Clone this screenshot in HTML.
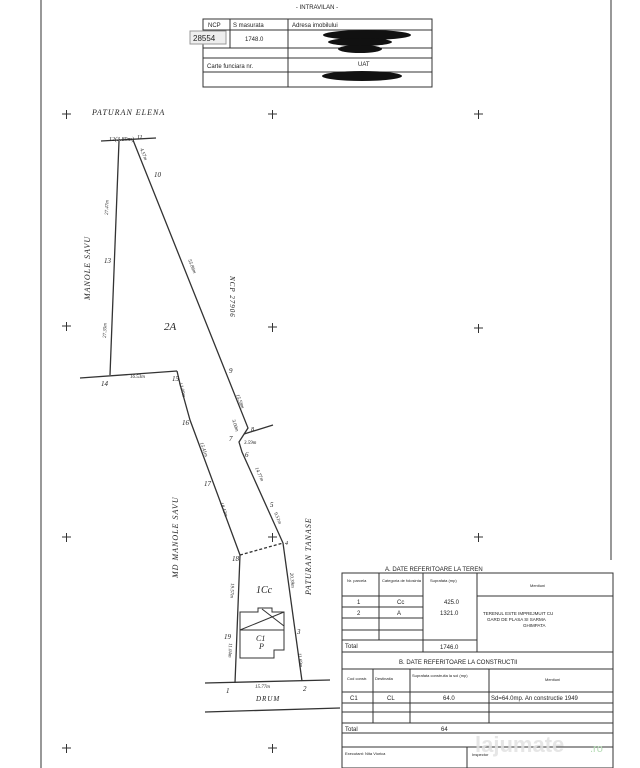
<!DOCTYPE html>
<html><head><meta charset="utf-8"><style>
html,body{margin:0;padding:0;background:#fff;}
svg{display:block}
text{font-family:"Liberation Serif",serif;fill:#222}
.s{font-family:"Liberation Sans",sans-serif;}
</style></head><body>
<svg width="640" height="768" viewBox="0 0 640 768" xmlns="http://www.w3.org/2000/svg">
<rect width="640" height="768" fill="#fff"/>
<g stroke="#555" stroke-width="1.2" fill="none">
<line x1="41" y1="0" x2="41" y2="768"/>
<line x1="611" y1="0" x2="611" y2="560"/>
</g>
<text x="317" y="9" font-size="6" text-anchor="middle" class="s">- INTRAVILAN -</text>
<g stroke="#333" stroke-width="1" fill="none">
<rect x="203" y="19" width="229" height="68"/>
<line x1="288" y1="19" x2="288" y2="87"/>
<line x1="230" y1="19" x2="230" y2="48"/>
<line x1="203" y1="30" x2="288" y2="30"/>
<line x1="203" y1="48" x2="432" y2="48"/>
<line x1="203" y1="58" x2="432" y2="58"/>
<line x1="203" y1="72" x2="432" y2="72"/>
<line x1="288" y1="30" x2="432" y2="30"/>
<rect x="190" y="31" width="36" height="13" fill="#eee" stroke="#999"/>
</g>
<g class="s" font-size="6">
<text x="208" y="27" class="s">NCP</text><text x="233" y="27" class="s">S masurata</text>
<text x="292" y="27" class="s">Adresa imobilului</text>
<text x="193" y="41" class="s" font-size="8">28554</text><text x="245" y="41" class="s">1748.0</text>
<text x="207" y="68" class="s">Carte funciara nr.</text><text x="358" y="66" class="s">UAT</text>
</g>
<g fill="#111">
<ellipse cx="367" cy="35" rx="44" ry="5"/><ellipse cx="360" cy="42" rx="32" ry="4"/>
<ellipse cx="360" cy="49" rx="22" ry="4"/><ellipse cx="362" cy="76" rx="40" ry="5"/>
</g>
<g stroke="#333" stroke-width="1">
<path d="M62 114h9M66.5 110v9 M268 114h9M272.5 110v9 M474 114h9M478.5 110v9
M62 326h9M66.5 322v9 M268 327h9M272.5 323v9 M474 328h9M478.5 324v9
M62 537h9M66.5 533v9 M268 537h9M272.5 533v9 M474 537h9M478.5 533v9
M62 748h9M66.5 744v9 M268 748h9M272.5 744v9"/>
</g>
<g stroke="#333" stroke-width="1.3" fill="none">
<line x1="101" y1="141" x2="156" y2="138"/>
<line x1="119" y1="141" x2="110" y2="375"/>
<polyline points="133,140 248,428 239,442 242,452 283,543 302,681"/>
<line x1="244" y1="434" x2="273" y2="425"/>
<line x1="80" y1="378" x2="177" y2="371"/>
<polyline points="177,371 180,384 190,420 240,555 235,683"/>
<line x1="205" y1="683" x2="330" y2="680"/>
<line x1="205" y1="712" x2="340" y2="708"/>
<line x1="240" y1="555" x2="283" y2="543" stroke-dasharray="3,2"/>
<polygon points="240,625 240,658 274,658 274,650 284,650 284,612 272,612 272,608 258,608 258,612 240,612" stroke-width="1"/>
<line x1="240" y1="630" x2="284" y2="630" stroke-width="1"/>
<line x1="240" y1="630" x2="284" y2="612" stroke-width="1"/>
<line x1="262" y1="609" x2="284" y2="626" stroke-width="1"/>
</g>
<g font-style="italic" font-size="8">
<text x="92" y="115" font-size="8" letter-spacing="1">PATURAN ELENA</text>
<text x="109" y="141" font-size="6">12(3.89m)</text><text x="137" y="139" font-size="6">11</text>
<text x="154" y="177" font-size="7">10</text><text x="104" y="263" font-size="7">13</text>
<text x="229" y="373" font-size="7">9</text><text x="229" y="441" font-size="7">7</text>
<text x="251" y="431" font-size="6">8</text><text x="245" y="457" font-size="7">6</text>
<text x="270" y="507" font-size="7">5</text><text x="285" y="545" font-size="6">4</text>
<text x="101" y="386" font-size="7">14</text><text x="130" y="378" font-size="5">16.53m</text>
<text x="172" y="381" font-size="7">15</text><text x="182" y="425" font-size="7">16</text>
<text x="204" y="486" font-size="7">17</text><text x="232" y="561" font-size="7">18</text>
<text x="224" y="639" font-size="7">19</text><text x="297" y="634" font-size="7">3</text>
<text x="226" y="693" font-size="7">1</text><text x="303" y="691" font-size="7">2</text>
<text x="255" y="688" font-size="5">15.77m</text>
<text x="256" y="701" font-size="7" letter-spacing="1">DRUM</text>
<text x="164" y="330" font-size="11">2A</text>
<text x="256" y="593" font-size="10">1Cc</text>
<text x="256" y="641" font-size="8">C1</text><text x="259" y="649" font-size="8">P</text>
<text transform="translate(90,300) rotate(-90)" font-size="8" letter-spacing="1">MANOLE SAVU</text>
<text transform="translate(230,276) rotate(90)" font-size="7" letter-spacing="1">NCP 27906</text>
<text transform="translate(178,578) rotate(-90)" font-size="8" letter-spacing="1">MD MANOLE SAVU</text>
<text transform="translate(311,595) rotate(-90)" font-size="8" letter-spacing="1">PATURAN TANASE</text>
<g font-size="5">
<text transform="translate(108,215) rotate(-88)">27.47m</text>
<text transform="translate(106,338) rotate(-88)">27.35m</text>
<text transform="translate(140,149) rotate(68)">4.57m</text>
<text transform="translate(188,260) rotate(68)">55.86m</text>
<text transform="translate(236,395) rotate(68)">15.58m</text>
<text transform="translate(232,420) rotate(72)">3.00m</text>
<text x="244" y="444">3.59m</text>
<text transform="translate(255,468) rotate(66)">14.77m</text>
<text transform="translate(274,513) rotate(66)">9.51m</text>
<text transform="translate(179,383) rotate(75)">12.09m</text>
<text transform="translate(200,443) rotate(70)">15.41m</text>
<text transform="translate(220,503) rotate(70)">18.43m</text>
<text transform="translate(231,583) rotate(92)">19.57m</text>
<text transform="translate(229,643) rotate(92)">11.04m</text>
<text transform="translate(290,573) rotate(84)">20.39m</text>
<text transform="translate(298,653) rotate(84)">11.69m</text>
</g>
</g>
<g stroke="#333" stroke-width="1" fill="none">
<rect x="342" y="573" width="271" height="195"/>
<line x1="342" y1="596" x2="423" y2="596"/><line x1="342" y1="607" x2="423" y2="607"/>
<line x1="342" y1="618" x2="423" y2="618"/><line x1="342" y1="630" x2="423" y2="630"/>
<line x1="342" y1="640" x2="477" y2="640"/><line x1="342" y1="652" x2="613" y2="652"/>
<line x1="477" y1="596" x2="613" y2="596"/>
<line x1="379" y1="573" x2="379" y2="640"/><line x1="423" y1="573" x2="423" y2="652"/>
<line x1="477" y1="573" x2="477" y2="652"/>
<line x1="342" y1="669" x2="613" y2="669"/><line x1="342" y1="692" x2="613" y2="692"/>
<line x1="342" y1="703" x2="613" y2="703"/><line x1="342" y1="712" x2="613" y2="712"/>
<line x1="342" y1="723" x2="613" y2="723"/><line x1="342" y1="733" x2="613" y2="733"/>
<line x1="342" y1="747" x2="613" y2="747"/>
<line x1="373" y1="669" x2="373" y2="723"/><line x1="410" y1="669" x2="410" y2="723"/>
<line x1="489" y1="669" x2="489" y2="723"/><line x1="467" y1="747" x2="467" y2="768"/>
</g>
<g class="s" font-size="6" fill="#222">
<text x="385" y="571" class="s">A. DATE REFERITOARE LA TEREN</text>
<text x="347" y="582" class="s" font-size="4">Nr. parcela</text>
<text x="382" y="582" class="s" font-size="4">Categoria de folosinta</text>
<text x="430" y="582" class="s" font-size="4">Suprafata (mp)</text>
<text x="530" y="587" class="s" font-size="4">Mentiuni</text>
<text x="357" y="604" class="s">1</text><text x="397" y="604" class="s">Cc</text><text x="444" y="604" class="s">425.0</text>
<text x="357" y="615" class="s">2</text><text x="397" y="615" class="s">A</text><text x="440" y="615" class="s">1321.0</text>
<text x="345" y="648" class="s">Total</text><text x="440" y="649" class="s">1746.0</text>
<text x="483" y="615" class="s" font-size="4.5">TERENUL ESTE IMPREJMUIT CU</text>
<text x="487" y="621" class="s" font-size="4.5">GARD DE PLASA SI SARMA</text>
<text x="523" y="627" class="s" font-size="4.5">GHIMPATA</text>
<text x="399" y="664" class="s">B. DATE REFERITOARE LA CONSTRUCTII</text>
<text x="347" y="680" class="s" font-size="4">Cod constr.</text>
<text x="375" y="680" class="s" font-size="4">Destinatia</text>
<text x="412" y="677" class="s" font-size="4">Suprafata construita la sol (mp)</text>
<text x="545" y="681" class="s" font-size="4">Mentiuni</text>
<text x="350" y="700" class="s">C1</text><text x="387" y="700" class="s">CL</text><text x="443" y="700" class="s">64.0</text>
<text x="491" y="700" class="s">Sd=64.0mp. An constructie 1949</text>
<text x="345" y="731" class="s">Total</text><text x="441" y="731" class="s">64</text>
<text x="345" y="755" class="s" font-size="4">Executant: Nita Viorica</text>
<text x="472" y="756" class="s" font-size="4">Inspector</text>
</g>
<text x="475" y="752" font-size="22" fill="#e2e2e2" opacity="0.85" class="s" font-weight="bold" style="fill:#e2e2e2">lajumate</text>
<text x="590" y="752" font-size="11" class="s" style="fill:#b6dcb6">.ro</text>
</svg>
</body></html>
